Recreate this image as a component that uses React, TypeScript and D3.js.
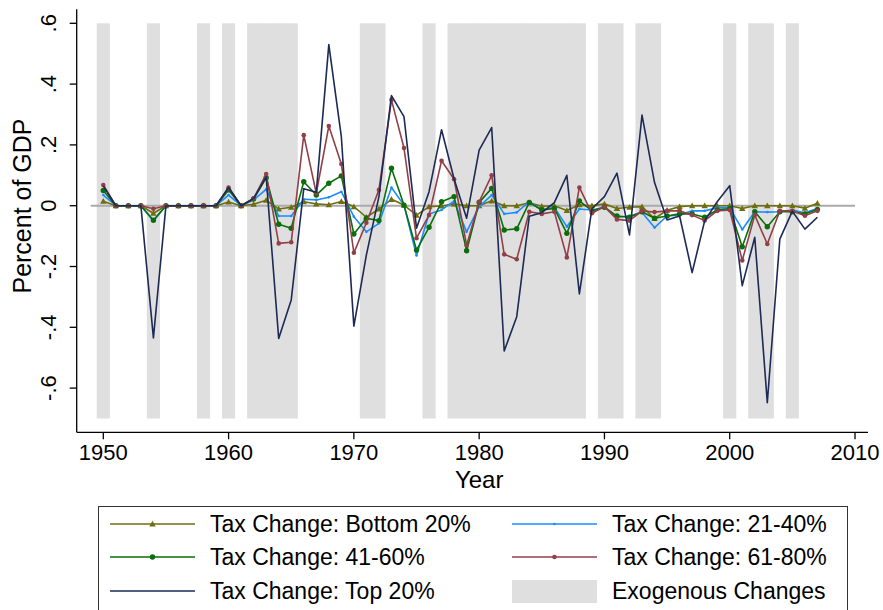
import React from "react";
import * as d3 from "d3";

const years = [
  1950, 1951, 1952, 1953, 1954, 1955, 1956, 1957, 1958, 1959,
  1960, 1961, 1962, 1963, 1964, 1965, 1966, 1967, 1968, 1969,
  1970, 1971, 1972, 1973, 1974, 1975, 1976, 1977, 1978, 1979,
  1980, 1981, 1982, 1983, 1984, 1985, 1986, 1987, 1988, 1989,
  1990, 1991, 1992, 1993, 1994, 1995, 1996, 1997, 1998, 1999,
  2000, 2001, 2002, 2003, 2004, 2005, 2006, 2007,
];

const bottom20 = [
  0.015, 0, 0, 0, -0.025, 0, 0, 0, 0, 0,
  0.012, 0, 0.005, 0.018, -0.011, -0.005, 0.013, 0.006, 0.003, 0.014,
  -0.003, -0.038, -0.011, 0.021, 0.002, -0.031, -0.003, -0.001, 0.006, 0,
  0, 0.016, 0, 0, 0.01, -0.002, 0, -0.016, 0.003, 0,
  0.006, -0.009, -0.005, -0.003, -0.042, -0.015, -0.003, 0, 0, 0,
  0, -0.009, 0, 0, 0, 0, -0.008, 0.008,
];

const q21to40 = [
  0.035, 0, 0, 0, -0.05, 0, 0, 0, 0, 0,
  0.035, 0, 0.019, 0.054, -0.034, -0.034, 0.021, 0.019, 0.028, 0.046,
  -0.036, -0.086, -0.058, 0.06, 0.002, -0.164, -0.027, -0.014, 0.015, -0.086,
  -0.003, 0.035, -0.027, -0.022, 0.013, -0.014, -0.005, -0.069, -0.011, -0.014,
  -0.005, -0.038, -0.034, -0.022, -0.072, -0.034, -0.031, -0.017, -0.017, -0.007,
  -0.007, -0.078, -0.02, -0.021, -0.02, -0.014, -0.023, -0.009,
];

const q41to60 = [
  0.05, 0, 0, 0, -0.048, 0, 0, 0, 0, 0,
  0.052, 0, 0.022, 0.092, -0.061, -0.074, 0.079, 0.035, 0.074, 0.098,
  -0.093, -0.041, -0.049, 0.123, 0.002, -0.146, -0.071, 0.013, 0.03, -0.148,
  0.011, 0.057, -0.08, -0.076, 0.011, -0.014, -0.009, -0.091, 0.016, -0.017,
  -0.005, -0.034, -0.038, -0.02, -0.041, -0.034, -0.027, -0.027, -0.038, -0.014,
  -0.01, -0.135, -0.02, -0.069, -0.02, -0.02, -0.027, -0.012,
];

const q61to80 = [
  0.068, 0, 0, 0, -0.01, 0, 0, 0, 0, 0,
  0.06, 0, 0.024, 0.104, -0.124, -0.12, 0.232, 0.041, 0.262, 0.137,
  -0.155, -0.056, 0.052, 0.348, 0.19, -0.107, -0.031, 0.148, 0.087, -0.13,
  0.013, 0.1, -0.16, -0.176, -0.02, -0.027, -0.02, -0.17, 0.06, -0.025,
  -0.003, -0.045, -0.049, -0.017, -0.021, -0.017, -0.017, -0.031, -0.049, -0.017,
  -0.014, -0.18, -0.031, -0.126, -0.017, -0.017, -0.033, -0.017,
];

const top20 = [
  0.065, 0, 0, 0, -0.435, 0, 0, 0, 0, 0,
  0.06, 0, 0.024, 0.095, -0.437, -0.31, 0.056, 0.044, 0.53, 0.227,
  -0.396, -0.162, 0.03, 0.362, 0.293, -0.074, 0.046, 0.25, 0.088, -0.041,
  0.183, 0.257, -0.478, -0.365, -0.035, -0.023, 0.01, 0.1, -0.29, -0.01,
  0.03, 0.107, -0.096, 0.298, 0.076, -0.047, -0.034, -0.22, -0.05, 0.013,
  0.066, -0.263, -0.104, -0.648, -0.11, -0.018, -0.077, -0.038,
];

const exogenousYears = [
  1950, 1954, 1958, 1960, 1962, 1963, 1964, 1965, 1971, 1972, 1976,
  1978, 1979, 1980, 1981, 1982, 1983, 1984, 1985, 1986, 1987, 1988,
  1990, 1991, 1993, 1994, 2000, 2002, 2003, 2005,
];

const xTicks = [1950, 1960, 1970, 1980, 1990, 2000, 2010];
const yTicks = [0.6, 0.4, 0.2, 0, -0.2, -0.4, -0.6];
const yTickLabels = [".6", ".4", ".2", "0", "-.2", "-.4", "-.6"];

const seriesNames = [
  "Tax Change: Bottom 20%",
  "Tax Change: 21-40%",
  "Tax Change: 41-60%",
  "Tax Change: 61-80%",
  "Tax Change: Top 20%",
];
const seriesValues = [bottom20, q21to40, q41to60, q61to80, top20];
const seriesColors = ["#6e6e0e", "#1a8cff", "#0a6e0a", "#933f48", "#1c2a55"];
const seriesMarkers = ["triangle", "dot", "diamond", "circle", "none"];

const FONT = "'Liberation Sans', Arial, sans-serif";

function Marker({ kind, x, y, color }: { kind: string; x: number; y: number; color: string }) {
  if (kind === "triangle") {
    const s = 3.2;
    return <path d={`M${x},${y - s} L${x + s},${y + s * 0.8} L${x - s},${y + s * 0.8} Z`} fill={color} />;
  }
  if (kind === "diamond") return <circle cx={x} cy={y} r={2.7} fill={color} />;
  if (kind === "circle") return <circle cx={x} cy={y} r={2.3} fill={color} />;
  if (kind === "dot") return <circle cx={x} cy={y} r={1.3} fill={color} />;
  return null;
}

export default function App() {
  const x = d3.scaleLinear().domain([1950, 2010]).range([103.3, 855]);
  const y = d3.scaleLinear().domain([-0.7, 0.6]).range([418.5, 23.3]);
  const band = x(1951) - x(1950);

  const line = d3
    .line<number>()
    .x((_, i) => x(years[i]))
    .y((d) => y(d));

  const axisLeft = 76.7;
  const axisBottom = 432.3;

  const legendRows = [
    { col: 0, row: 0, idx: 0 },
    { col: 1, row: 0, idx: 1 },
    { col: 0, row: 1, idx: 2 },
    { col: 1, row: 1, idx: 3 },
    { col: 0, row: 2, idx: 4 },
  ];
  const legendRowY = [524, 557, 591];
  const legendColX = [110, 512];

  return (
    <svg
      width={883}
      height={610}
      style={{ position: "absolute", left: 0, top: 0, background: "#fff" }}
      fontFamily={FONT}
    >
      <rect x={0} y={0} width={883} height={610} fill="#fff" />
      {exogenousYears.map((yr) => (
        <rect
          key={yr}
          x={x(yr) - band / 2 - 0.3}
          y={y(0.6)}
          width={band + 0.6}
          height={y(-0.7) - y(0.6)}
          fill="#dfdfdf"
        />
      ))}
      <line x1={x(1949)} x2={x(2010)} y1={y(0)} y2={y(0)} stroke="#aaaaaa" strokeWidth={2} />
      {seriesValues.map((vals, si) => (
        <g key={si}>
          <path d={line(vals) || ""} fill="none" stroke={seriesColors[si]} strokeWidth={1.6} strokeLinejoin="round" />
          {vals.map((v, i) => (
            <Marker key={i} kind={seriesMarkers[si]} x={x(years[i])} y={y(v)} color={seriesColors[si]} />
          ))}
        </g>
      ))}
      <line x1={axisLeft} x2={axisLeft} y1={9.3} y2={axisBottom} stroke="#000" strokeWidth={1.3} />
      <line x1={axisLeft} x2={868} y1={axisBottom} y2={axisBottom} stroke="#000" strokeWidth={1.3} />
      {yTicks.map((t, i) => (
        <g key={t}>
          <line x1={axisLeft - 7} x2={axisLeft} y1={y(t)} y2={y(t)} stroke="#000" strokeWidth={1.3} />
          <text
            transform={`translate(56,${y(t)}) rotate(-90)`}
            textAnchor="middle"
            fontSize={22}
            fill="#000"
          >
            {yTickLabels[i]}
          </text>
        </g>
      ))}
      {xTicks.map((t) => (
        <g key={t}>
          <line x1={x(t)} x2={x(t)} y1={axisBottom} y2={axisBottom + 7} stroke="#000" strokeWidth={1.3} />
          <text x={x(t)} y={460} textAnchor="middle" fontSize={22} fill="#000">
            {t}
          </text>
        </g>
      ))}
      <text x={x(1980)} y={488} textAnchor="middle" fontSize={24} fill="#000">
        Year
      </text>
      <text transform="translate(31,206) rotate(-90)" textAnchor="middle" fontSize={25} fill="#000">
        Percent of GDP
      </text>
      <rect x={98.5} y={506.5} width={749} height={120} fill="#fff" stroke="#333" strokeWidth={1} />
      {legendRows.map(({ col, row, idx }) => {
        const lx = legendColX[col];
        const ly = legendRowY[row];
        return (
          <g key={idx}>
            <line x1={lx} x2={lx + 85} y1={ly} y2={ly} stroke={seriesColors[idx]} strokeWidth={1.6} />
            <Marker kind={seriesMarkers[idx]} x={lx + 42.5} y={ly} color={seriesColors[idx]} />
            <text x={lx + 100} y={ly + 8} fontSize={23} fill="#000">
              {seriesNames[idx]}
            </text>
          </g>
        );
      })}
      <rect x={legendColX[1]} y={legendRowY[2] - 11} width={85} height={23} fill="#dfdfdf" />
      <text x={legendColX[1] + 100} y={legendRowY[2] + 8} fontSize={23} fill="#000">
        Exogenous Changes
      </text>
    </svg>
  );
}
